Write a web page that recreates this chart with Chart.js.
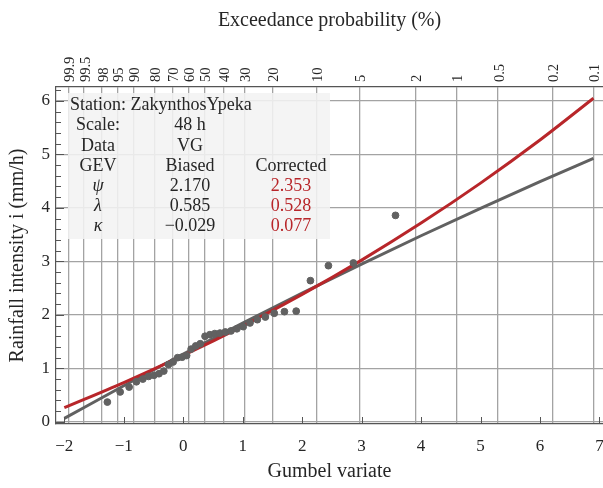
<!DOCTYPE html>
<html>
<head>
<meta charset="utf-8">
<script src="https://cdn.jsdelivr.net/npm/chart.js@4.4.1/dist/chart.umd.min.js"></script>
<style>
  html, body { margin: 0; padding: 0; background: #fff; }
  #wrap { width: 603px; height: 488px; }
</style>
</head>
<body>
<div id="wrap"><canvas id="chart" width="603" height="488"></canvas></div>
<script>
// observed sample: Gumbel reduced variate of each rank and its rainfall intensity
const gumbelObs = [-1.276, -1.061, -0.910, -0.787, -0.680, -0.583, -0.493, -0.408, -0.327, -0.248,
  -0.170, -0.094, -0.018, 0.057, 0.133, 0.210, 0.287, 0.367, 0.448, 0.531,
  0.618, 0.708, 0.803, 0.903, 1.009, 1.123, 1.246, 1.381, 1.531, 1.702,
  1.900, 2.139, 2.442, 2.862, 3.570];
const rainObs = [0.37, 0.56, 0.65, 0.75, 0.80, 0.85, 0.87, 0.90, 0.95, 1.07,
  1.12, 1.20, 1.21, 1.24, 1.36, 1.42, 1.46, 1.60, 1.63, 1.65,
  1.66, 1.68, 1.70, 1.74, 1.78, 1.85, 1.91, 1.96, 2.03, 2.06,
  2.07, 2.64, 2.92, 2.97, 3.86];

// fitted GEV curves
const curveX = [-2, -1, 0, 1, 2, 3, 4, 5, 6, 6.9];
const biasedY = [0.065, 0.676, 1.269, 1.846, 2.406, 2.950, 3.479, 3.992, 4.491, 4.928];
const correctedY = [0.264, 0.734, 1.242, 1.791, 2.384, 3.024, 3.716, 4.463, 5.269, 6.050];

// axes
const xTicks = [-2, -1, 0, 1, 2, 3, 4, 5, 6, 7];
const yTicks = [0, 1, 2, 3, 4, 5, 6];
const probLabels = ['99.9', '99.5', '98', '95', '90', '80', '70', '60', '50', '40', '30', '20', '10', '5', '2', '1', '0.5', '0.2', '0.1'];
const probGumbel = [-1.933, -1.667, -1.364, -1.097, -0.834, -0.476, -0.186, 0.087, 0.367, 0.672, 1.031, 1.500, 2.250, 2.970, 3.902, 4.600, 5.296, 6.214, 6.907];

// inset table
const tableHead = ['GEV', 'Biased', 'Corrected'];
const paramNames = ['\u03C8', '\u03BB', '\u03BA'];
const biasedParams = ['2.170', '0.585', '\u22120.029'];
const correctedParams = ['2.353', '0.528', '0.077'];

const SERIF = '"Liberation Serif", "DejaVu Serif", serif';
const INK = '#262626';
const RED = '#b8262a';
const GREY = '#616161';
const GRID = '#a3a3a3';

const insideTicks = {
  id: 'insideTicks',
  afterDraw(chart) {
    const { ctx, chartArea: a, scales } = chart;
    ctx.save();
    ctx.strokeStyle = '#555';
    ctx.lineWidth = 1;
    for (let v = 0; v <= 6.2001; v += 0.2) {
      const py = Math.round(scales.y.getPixelForValue(v)) + 0.5;
      const major = Math.abs(v - Math.round(v)) < 1e-6;
      ctx.beginPath();
      ctx.moveTo(a.left, py);
      ctx.lineTo(a.left + (major ? 8 : 5), py);
      ctx.stroke();
    }
    xTicks.forEach(v => {
      const px = Math.round(scales.x.getPixelForValue(v)) + 0.5;
      ctx.beginPath();
      ctx.moveTo(px, a.bottom);
      ctx.lineTo(px, a.bottom - 7);
      ctx.stroke();
    });
    ctx.restore();
  }
};

const insetTable = {
  id: 'insetTable',
  beforeDatasetsDraw(chart) {
    const { ctx, chartArea: a } = chart;
    const x0 = a.left + 12, y0 = a.top + 6;
    const c1 = x0 + 30, c2 = x0 + 122, c3 = x0 + 223;
    ctx.save();
    ctx.fillStyle = 'rgba(243,243,243,0.88)';
    ctx.fillRect(x0, y0, 262, 146);
    ctx.font = '18px ' + SERIF;
    ctx.fillStyle = INK;
    ctx.textBaseline = 'middle';
    ctx.textAlign = 'left';
    ctx.fillText('Station: ZakynthosYpeka', x0 + 2, y0 + 12);
    ctx.textAlign = 'center';
    ctx.fillText('Scale:', c1, y0 + 32);
    ctx.fillText('48 h', c2, y0 + 32);
    ctx.fillText('Data', c1, y0 + 53);
    ctx.fillText('VG', c2, y0 + 53);
    ctx.fillText(tableHead[0], c1, y0 + 73);
    ctx.fillText(tableHead[1], c2, y0 + 73);
    ctx.fillText(tableHead[2], c3, y0 + 73);
    paramNames.forEach((p, i) => {
      const yy = y0 + 93 + i * 20;
      ctx.fillStyle = INK;
      ctx.font = 'italic 18px ' + SERIF;
      ctx.fillText(p, c1, yy);
      ctx.font = '18px ' + SERIF;
      ctx.fillText(biasedParams[i], c2, yy);
      ctx.fillStyle = RED;
      ctx.fillText(correctedParams[i], c3, yy);
    });
    ctx.restore();
  }
};

new Chart(document.getElementById('chart'), {
  type: 'line',
  data: {
    datasets: [
      {
        label: 'Observed',
        type: 'scatter',
        data: gumbelObs.map((g, i) => ({ x: g, y: rainObs[i] })),
        backgroundColor: GREY,
        borderColor: GREY,
        pointRadius: 3.4,
        pointHoverRadius: 3.4
      },
      {
        label: 'Corrected',
        data: curveX.map((g, i) => ({ x: g, y: correctedY[i] })),
        borderColor: RED,
        borderWidth: 3,
        pointRadius: 0,
        cubicInterpolationMode: 'monotone',
        fill: false
      },
      {
        label: 'Biased',
        data: curveX.map((g, i) => ({ x: g, y: biasedY[i] })),
        borderColor: GREY,
        borderWidth: 3,
        pointRadius: 0,
        cubicInterpolationMode: 'monotone',
        fill: false
      }
    ]
  },
  options: {
    responsive: false,
    animation: false,
    layout: { padding: 0, autoPadding: false },
    plugins: { legend: { display: false }, tooltip: { enabled: false } },
    scales: {
      x: {
        type: 'linear',
        position: 'bottom',
        min: -2.14,
        max: 7.06,
        afterBuildTicks: s => { s.ticks = xTicks.map(v => ({ value: v })); },
        afterFit: s => { s.height = 64; s.paddingLeft = 0; s.paddingRight = 0; },
        ticks: {
          autoSkip: false,
          maxRotation: 0,
          padding: 4,
          color: INK,
          font: { family: SERIF, size: 17 },
          callback: v => (v < 0 ? '\u2212' + Math.abs(v) : String(v))
        },
        grid: { display: false },
        border: { color: '#555', width: 1.2 },
        title: { display: true, text: 'Gumbel variate', color: INK, font: { family: SERIF, size: 20 }, padding: { top: 19 } }
      },
      xTop: {
        type: 'linear',
        position: 'top',
        min: -2.14,
        max: 7.06,
        afterBuildTicks: s => { s.ticks = probGumbel.map(v => ({ value: v })); },
        afterFit: s => { s.height = 87; s.paddingLeft = 0; s.paddingRight = 0; },
        ticks: {
          autoSkip: false,
          minRotation: 90,
          maxRotation: 90,
          padding: 5,
          labelOffset: 19,
          color: INK,
          font: { family: SERIF, size: 14.5 },
          callback: (v, i) => probLabels[i]
        },
        grid: { color: GRID, lineWidth: 1.3, drawTicks: false },
        border: { color: '#555', width: 1.2 },
        title: { display: true, text: 'Exceedance probability (%)', color: INK, font: { family: SERIF, size: 20 }, padding: { top: 9, bottom: 4 } }
      },
      y: {
        min: -0.04,
        max: 6.26,
        afterBuildTicks: s => { s.ticks = yTicks.map(v => ({ value: v })); },
        afterFit: s => { s.width = 56; },
        ticks: { color: INK, padding: 6, font: { family: SERIF, size: 17 } },
        grid: { color: GRID, lineWidth: 1.3, drawTicks: false },
        border: { color: '#555', width: 1.2 },
        title: { display: true, text: 'Rainfall intensity i (mm/h)', color: INK, font: { family: SERIF, size: 20 }, padding: { top: 6, bottom: 4 } }
      }
    }
  },
  plugins: [insetTable, insideTicks]
});
</script>
</body>
</html>
